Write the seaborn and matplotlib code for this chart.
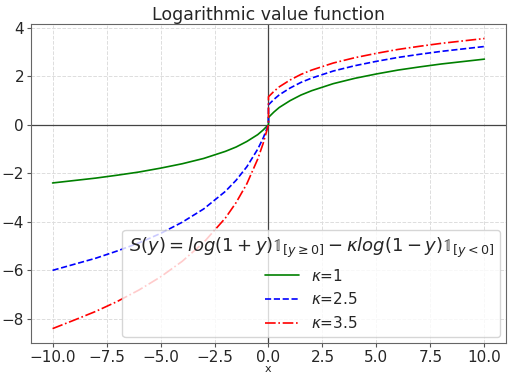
import numpy as np
import pandas as pd
import matplotlib
matplotlib.use('Agg')
import matplotlib.pyplot as plt
import seaborn as sns

# x grid (0 appears twice: the curves jump at y=0)
x_vals = [-10, -9, -8, -7, -6, -5, -4, -3, -2, -1.5, -1, -0.5, -0.25, 0,
          0, 0.25, 0.5, 1, 1.5, 2, 3, 4, 5, 6, 7, 8, 9, 10]

# values
kappa_1 = [-2.40, -2.30, -2.20, -2.08, -1.95, -1.79, -1.61, -1.39, -1.10, -0.92, -0.69, -0.41, -0.22, 0.0,
           0.30, 0.52, 0.71, 0.99, 1.22, 1.40, 1.69, 1.91, 2.09, 2.25, 2.38, 2.50, 2.60, 2.70]
kappa_25 = [-6.00, -5.75, -5.50, -5.20, -4.87, -4.48, -4.02, -3.47, -2.75, -2.29, -1.73, -1.01, -0.56, 0.0,
            0.82, 1.04, 1.23, 1.51, 1.74, 1.92, 2.21, 2.43, 2.61, 2.77, 2.90, 3.02, 3.12, 3.22]
kappa_35 = [-8.40, -8.05, -7.69, -7.28, -6.81, -6.27, -5.63, -4.85, -3.85, -3.21, -2.43, -1.42, -0.78, 0.0,
            1.15, 1.37, 1.56, 1.84, 2.07, 2.25, 2.54, 2.76, 2.94, 3.10, 3.23, 3.35, 3.45, 3.55]

labels = [r'$\kappa$=1', r'$\kappa$=2.5', r'$\kappa$=3.5']
colors = ['green', 'blue', 'red']
styles = ['-', '--', '-.']

sns.set_style('white')
plt.rcParams['font.family'] = ['DejaVu Sans']

fig, ax = plt.subplots(figsize=(5.08, 3.75), dpi=100)
fig.subplots_adjust(left=0.061, right=0.996, top=0.936, bottom=0.085)

ax.axhline(0, color='#444444', lw=0.9, zorder=1)
ax.axvline(0, color='#444444', lw=0.9, zorder=1)

for vals, lab, col, ls in zip([kappa_1, kappa_25, kappa_35], labels, colors, styles):
    sns.lineplot(x=x_vals, y=vals, ax=ax, color=col, linestyle=ls, lw=1.2,
                 label=lab, estimator=None, sort=False)

ax.grid(True, linestyle='--', color='#dddddd', lw=0.7)
ax.tick_params(axis='both', which='both', left=True, bottom=True, length=3,
               labelsize=11, color='#555555', pad=2)
for sp in ax.spines.values():
    sp.set_color('#666666')

ax.set_title('Logarithmic value function', fontsize=12.5, pad=3)
ax.set_xlabel('x', fontsize=8, labelpad=-1)

leg = ax.legend(loc='lower right', fontsize=11, handlelength=2.2,
                title=r'$S(y)=log(1+y)\mathbb{1}_{[y\geq0]}-\kappa log(1-y)\mathbb{1}_{[y<0]}$',
                title_fontsize=13, framealpha=0.8, borderaxespad=0.4)

plt.savefig('out.png', dpi=100)
